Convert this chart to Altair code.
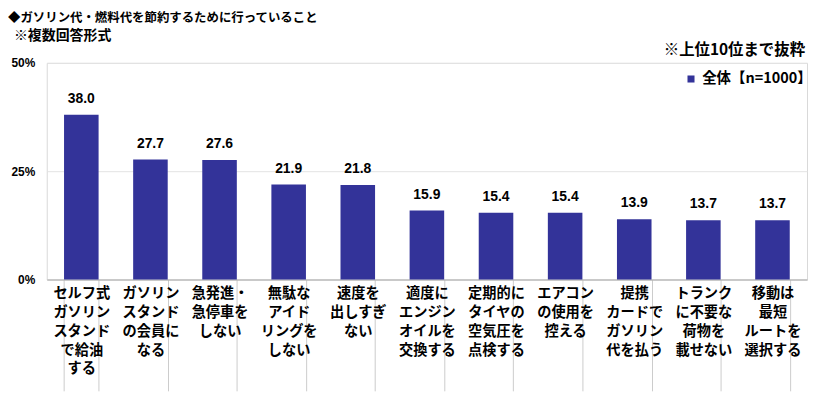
import altair as alt
import pandas as pd

title1 = "◆ガソリン代・燃料代を節約するために行っていること"
title2 = "※複数回答形式"
note = "※上位10位まで抜粋"
series = "全体【n=1000】"

categories = [
    "セルフ式|ガソリン|スタンド|で給油|する",
    "ガソリン|スタンド|の会員に|なる",
    "急発進・|急停車を|しない",
    "無駄な|アイド|リングを|しない",
    "速度を|出しすぎ|ない",
    "適度に|エンジン|オイルを|交換する",
    "定期的に|タイヤの|空気圧を|点検する",
    "エアコン|の使用を|控える",
    "提携|カードで|ガソリン|代を払う",
    "トランク|に不要な|荷物を|載せない",
    "移動は|最短|ルートを|選択する",
]
values = [38.0, 27.7, 27.6, 21.9, 21.8, 15.9, 15.4, 15.4, 13.9, 13.7, 13.7]
y_ticks = [0, 25, 50]

df = pd.DataFrame({"cat": categories, "val": values, "series": [series] * len(values)})

JP = "Noto Sans CJK JP"
NUM = "Liberation Sans"

x_enc = alt.X(
    "cat:N",
    sort=None,
    scale=alt.Scale(paddingInner=0.5, paddingOuter=0.25),
    axis=alt.Axis(
        title=None,
        labelAngle=0,
        labelExpr="split(datum.label, '|')",
        labelFont=JP,
        labelFontSize=14.3,
        labelFontWeight="bold",
        labelColor="#000000",
        labelLineHeight=19,
        labelBaseline="top",
        labelPadding=-105,
        tickBand="extent",
        tickSize=112,
        tickColor="#cccccc",
        domainColor="#aaaaaa",
        labelLimit=200,
    ),
)

y_enc = alt.Y(
    "val:Q",
    scale=alt.Scale(domain=[0, 50]),
    axis=alt.Axis(
        title=None,
        values=y_ticks,
        labelExpr="datum.value + '%'",
        domain=False,
        ticks=False,
        gridColor="#e3e3e3",
        labelFont=NUM,
        labelFontSize=12,
        labelFontWeight="bold",
        labelColor="#000000",
        labelPadding=12,
    ),
)

bars = alt.Chart(df).mark_bar().encode(
    x=x_enc,
    y=y_enc,
    color=alt.Color(
        "series:N",
        scale=alt.Scale(domain=[series], range=["#333399"]),
        legend=alt.Legend(
            orient="none",
            legendX=641,
            legendY=9,
            title=None,
            symbolType="square",
            symbolSize=50,
            symbolStrokeWidth=0,
            labelFont=JP,
            labelFontSize=14.5,
            labelFontWeight="bold",
            labelColor="#000000",
            labelLimit=300,
        ),
    ),
)

labels = alt.Chart(df).mark_text(
    dy=-16, font=NUM, fontSize=14, fontWeight="bold", color="#000000"
).encode(x=alt.X("cat:N", sort=None), y="val:Q", text=alt.Text("val:Q", format=".1f"))

t1 = alt.Chart(pd.DataFrame({"t": [title1]})).mark_text(
    align="left", baseline="middle", font=JP, fontSize=12.5, fontWeight="bold", color="#000000"
).encode(text="t:N", x=alt.value(-39), y=alt.value(-45.5))

t2 = alt.Chart(pd.DataFrame({"t": [title2]})).mark_text(
    align="left", baseline="middle", font=JP, fontSize=14, fontWeight="bold", color="#000000"
).encode(text="t:N", x=alt.value(-33), y=alt.value(-26.5))

t3 = alt.Chart(pd.DataFrame({"t": [note]})).mark_text(
    align="right", baseline="middle", font=JP, fontSize=15.5, fontWeight="bold", color="#000000"
).encode(text="t:N", x=alt.value(763), y=alt.value(-13))

chart = alt.layer(bars, labels, t1, t2, t3).properties(
    width=765,
    height=218,
    autosize=alt.AutoSizeParams(type="none"),
    padding={"left": 39, "top": 54, "right": 5, "bottom": 113},
).configure_view(stroke="#d9d9d9")

chart.save("out.html", embed_options={"renderer": "svg", "actions": False})
